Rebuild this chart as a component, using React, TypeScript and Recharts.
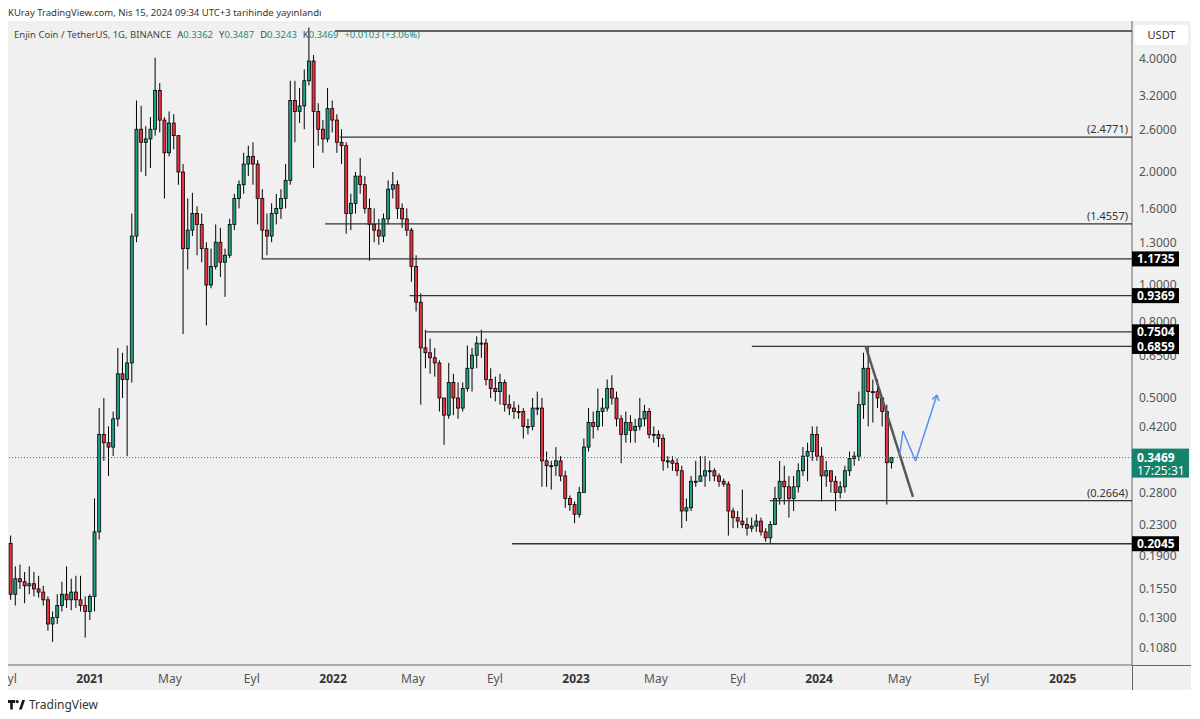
import React from "react";
import { ComposedChart, Bar, XAxis, YAxis, ReferenceLine } from "recharts";

const FONT = '"Noto Sans", "DejaVu Sans", sans-serif';
const UP = "#1f9e86";
const DOWN = "#e8343f";

// ENJ/USDT weekly candles, weeks start on Monday
const firstWeek = "2020-08-31";
const firstOpen = 0.205;
const highs = [
  0.215, 0.178, 0.18, 0.172, 0.178, 0.172, 0.168, 0.158, 0.148, 0.135,
  0.15, 0.162, 0.178, 0.165, 0.168, 0.168, 0.148, 0.15, 0.27, 0.47,
  0.5, 0.42, 0.46, 0.68, 0.66, 0.69, 1.55, 3.1, 3.0, 2.65,
  2.8, 4.03, 3.45, 2.8, 2.9, 2.85, 2.5, 2.1, 1.7, 1.76,
  1.62, 1.55, 1.3, 1.25, 1.45, 1.42, 1.25, 1.5, 1.75, 1.9,
  2.25, 2.35, 2.4, 2.15, 1.8, 1.55, 1.65, 1.75, 1.8, 2.1,
  3.5, 3.5, 3.35, 3.75, 4.85, 4.1, 3.05, 2.75, 3.35, 3.1,
  2.85, 2.6, 2.4, 1.75, 2.0, 2.18, 1.95, 1.7, 1.6, 1.5,
  1.55, 1.9, 2.0, 1.9, 1.65, 1.6, 1.42, 1.2, 0.95, 0.76,
  0.72, 0.68, 0.63, 0.5, 0.62, 0.58, 0.55, 0.55, 0.69, 0.68,
  0.73, 0.76, 0.72, 0.6, 0.57, 0.58, 0.56, 0.51, 0.49, 0.48,
  0.47, 0.44, 0.5, 0.52, 0.5, 0.36, 0.34, 0.37, 0.35, 0.32,
  0.275, 0.265, 0.29, 0.39, 0.47, 0.46, 0.53, 0.5, 0.56, 0.575,
  0.52, 0.45, 0.46, 0.45, 0.44, 0.5, 0.48, 0.47, 0.42, 0.41,
  0.4, 0.35, 0.35, 0.345, 0.33, 0.27, 0.31, 0.34, 0.35, 0.35,
  0.34, 0.325, 0.315, 0.305, 0.3, 0.255, 0.25, 0.285, 0.24, 0.24,
  0.245, 0.24, 0.225, 0.235, 0.29, 0.34, 0.33, 0.31, 0.31, 0.335,
  0.37, 0.38, 0.42, 0.42, 0.37, 0.34, 0.32, 0.31, 0.3, 0.33,
  0.36, 0.36, 0.52, 0.66, 0.686, 0.56, 0.56, 0.5, 0.48, 0.3487,
];
const lows = [
  0.145, 0.14, 0.155, 0.142, 0.15, 0.148, 0.147, 0.14, 0.12, 0.112,
  0.125, 0.135, 0.138, 0.136, 0.138, 0.135, 0.115, 0.128, 0.135, 0.21,
  0.34, 0.31, 0.35, 0.42, 0.5, 0.35, 0.55, 1.3, 2.0, 1.95,
  2.05, 2.5, 2.55, 1.7, 2.2, 2.3, 1.85, 0.74, 1.1, 1.35,
  1.2, 1.15, 0.78, 0.98, 1.1, 1.05, 0.93, 1.18, 1.4, 1.6,
  1.75, 1.95, 1.85, 1.45, 1.17, 1.2, 1.3, 1.45, 1.5, 1.6,
  1.85, 2.4, 2.7, 2.6, 3.4, 2.05, 2.35, 2.25, 2.4, 2.55,
  2.25, 2.1, 1.37, 1.4, 1.55, 1.75, 1.55, 1.16, 1.3, 1.28,
  1.3, 1.45, 1.7, 1.5, 1.42, 1.35, 1.02, 0.85, 0.48, 0.6,
  0.58, 0.57, 0.46, 0.375, 0.44, 0.45, 0.44, 0.46, 0.52, 0.52,
  0.6, 0.64, 0.54, 0.5, 0.49, 0.48, 0.46, 0.45, 0.44, 0.44,
  0.39, 0.4, 0.41, 0.45, 0.29, 0.29, 0.285, 0.31, 0.3, 0.255,
  0.25, 0.232, 0.24, 0.28, 0.36, 0.39, 0.41, 0.42, 0.46, 0.48,
  0.42, 0.335, 0.38, 0.38, 0.38, 0.41, 0.42, 0.39, 0.38, 0.37,
  0.32, 0.325, 0.32, 0.31, 0.225, 0.235, 0.25, 0.29, 0.3, 0.29,
  0.3, 0.3, 0.29, 0.29, 0.215, 0.225, 0.225, 0.225, 0.215, 0.22,
  0.22, 0.215, 0.207, 0.2045, 0.23, 0.26, 0.26, 0.24, 0.25, 0.28,
  0.31, 0.3, 0.34, 0.34, 0.265, 0.29, 0.28, 0.25, 0.27, 0.28,
  0.31, 0.33, 0.34, 0.44, 0.42, 0.43, 0.47, 0.42, 0.26, 0.3243,
];
const closes = [
  0.15, 0.165, 0.162, 0.158, 0.16, 0.155, 0.152, 0.145, 0.125, 0.13,
  0.14, 0.15, 0.145, 0.152, 0.145, 0.14, 0.135, 0.148, 0.22, 0.4,
  0.38, 0.37, 0.44, 0.58, 0.56, 0.62, 1.35, 2.6, 2.4, 2.45,
  2.6, 3.3, 2.75, 2.25, 2.7, 2.5, 2.0, 1.25, 1.4, 1.55,
  1.45, 1.25, 1.0, 1.12, 1.3, 1.15, 1.2, 1.45, 1.7, 1.85,
  2.1, 2.2, 2.1, 1.7, 1.4, 1.35, 1.55, 1.6, 1.7, 1.9,
  3.1, 2.9, 3.0, 3.5, 3.95, 2.9, 2.6, 2.45, 2.95, 2.75,
  2.4, 2.35, 1.55, 1.65, 1.95, 1.85, 1.6, 1.45, 1.4, 1.35,
  1.5, 1.8, 1.85, 1.6, 1.5, 1.4, 1.12, 0.9, 0.68, 0.66,
  0.64, 0.62, 0.5, 0.45, 0.55, 0.5, 0.47, 0.53, 0.6, 0.65,
  0.7, 0.7, 0.56, 0.53, 0.52, 0.55, 0.48, 0.47, 0.46, 0.46,
  0.42, 0.42, 0.47, 0.47, 0.34, 0.33, 0.33, 0.34, 0.31, 0.27,
  0.26, 0.245, 0.28, 0.37, 0.43, 0.42, 0.46, 0.47, 0.53, 0.5,
  0.44, 0.4, 0.43, 0.41, 0.42, 0.44, 0.46, 0.4, 0.4, 0.39,
  0.34, 0.34, 0.335, 0.32, 0.25, 0.255, 0.3, 0.3, 0.31, 0.32,
  0.32, 0.31, 0.3, 0.295, 0.25, 0.24, 0.235, 0.23, 0.225, 0.228,
  0.235, 0.22, 0.212, 0.23, 0.27, 0.3, 0.29, 0.27, 0.29, 0.32,
  0.35, 0.36, 0.4, 0.35, 0.31, 0.32, 0.3, 0.28, 0.29, 0.32,
  0.345, 0.35, 0.48, 0.6, 0.52, 0.52, 0.5, 0.46, 0.3362, 0.3469,
];

const monthTicks = [
  "2020-09-01", "2021-01-01", "2021-05-01", "2021-09-01", "2022-01-01", "2022-05-01", "2022-09-01",
  "2023-01-01", "2023-05-01", "2023-09-01", "2024-01-01", "2024-05-01", "2024-09-01", "2025-01-01",
];
const monthLabels = ["Eyl", "2021", "May", "Eyl", "2022", "May", "Eyl", "2023", "May", "Eyl", "2024", "May", "Eyl", "2025"];

const priceTicks = [0.108, 0.13, 0.155, 0.19, 0.23, 0.28, 0.42, 0.5, 0.65, 0.8, 1.0, 1.3, 1.6, 2.0, 2.6, 3.2, 4.0];

// horizontal levels drawn on the chart
const levelPrices = [4.75, 2.4771, 1.4557, 1.1735, 0.9369, 0.7504, 0.6859, 0.2664, 0.2045];
const levelStarts = ["2022-01-04", "2022-01-11", "2021-12-20", "2021-09-16", "2022-04-26", "2022-05-19", "2023-09-22", "2023-10-19", "2022-09-27"];
const levelTags = ["none", "text", "text", "box", "box", "box", "box", "text", "box"];

const lastPrice = 0.3469;
const countdown = "17:25:31";

const trendDates = ["2024-03-11", "2024-05-21"];
const trendPrices = [0.686, 0.2725];
const pathDates = ["2024-05-01", "2024-05-06", "2024-05-25", "2024-06-26"];
const pathPrices = [0.3525, 0.4085, 0.3397, 0.5095];
const arrowDates = ["2024-06-19", "2024-06-29"];
const arrowPrices = [0.4956, 0.4908];

const dayNum = (s: string) => (Date.parse(s + "T00:00:00Z") - Date.parse("2021-01-01T00:00:00Z")) / 86400000;

const X_MIN = -123.2;
const X_MAX = 1565;
const Y_MIN = 0.0972;
const Y_MAX = 5.05;
const PLOT_W = 1124;
const PLOT_H = 644;
const CHART_W = 1183;
const CHART_H = 669;

const start = dayNum(firstWeek);
const candles = closes.map((c, i) => ({
  t: start + 7 * i + 3.5,
  open: i === 0 ? firstOpen : closes[i - 1],
  high: highs[i],
  low: lows[i],
  close: c,
  range: [lows[i], highs[i]],
}));
const tickTs = monthTicks.map(dayNum);

const Candle = (props: any) => {
  const { x, y, width, height, payload } = props;
  if (!payload || !isFinite(y) || !isFinite(height)) return null;
  const yHi = Math.min(y, y + height);
  const h = Math.abs(height);
  const lh = Math.log(payload.high);
  const ll = Math.log(payload.low);
  const py = (v: number) => (lh === ll ? yHi : yHi + ((lh - Math.log(v)) / (lh - ll)) * h);
  const up = payload.close >= payload.open;
  const top = py(Math.max(payload.open, payload.close));
  const bot = py(Math.min(payload.open, payload.close));
  const cx = x + width / 2;
  return (
    <g>
      <line x1={cx} x2={cx} y1={yHi} y2={yHi + h} stroke="#000" strokeWidth={1} />
      <rect x={x} y={top} width={width} height={Math.max(1, bot - top)} fill={up ? UP : DOWN} stroke="#000" strokeWidth={0.8} />
    </g>
  );
};

const TimeTick = (props: any) => {
  const { x, payload } = props;
  const idx = tickTs.findIndex((v) => Math.abs(v - payload.value) < 0.01);
  const label = monthLabels[idx] ?? "";
  const isYear = /^\d{4}$/.test(label);
  return (
    <text x={x} y={PLOT_H + 13} textAnchor="middle" dominantBaseline="central" fontSize={12} fontFamily={FONT}
      fontWeight={isYear ? 700 : 400} fill={isYear ? "#333" : "#555"}>
      {label}
    </text>
  );
};

const PriceTick = (props: any) => {
  const { y, payload } = props;
  return (
    <text x={PLOT_W + 7} y={y} dominantBaseline="central" fontSize={12} fontFamily={FONT} fill="#555">
      {Number(payload.value).toFixed(4)}
    </text>
  );
};

const LevelTag = (props: any) => {
  const { viewBox, price, kind } = props;
  if (!viewBox) return null;
  const vy = viewBox.y;
  if (kind === "text") {
    return (
      <text x={PLOT_W - 4} y={vy - 4} textAnchor="end" fontSize={11} fontFamily={FONT} fill="#333">
        ({price.toFixed(4)})
      </text>
    );
  }
  if (kind === "box") {
    return (
      <g>
        <rect x={PLOT_W} y={vy - 7.5} width={47} height={15} fill="#000" />
        <text x={PLOT_W + 5} y={vy} dominantBaseline="central" fontSize={12} fontWeight={700} fontFamily={FONT} fill="#fff">
          {price.toFixed(4)}
        </text>
      </g>
    );
  }
  return null;
};

const LastTag = (props: any) => {
  const { viewBox } = props;
  if (!viewBox) return null;
  const vy = viewBox.y;
  return (
    <g>
      <rect x={PLOT_W} y={vy - 9} width={57} height={29} fill="#16826c" />
      <text x={PLOT_W + 5} y={vy} dominantBaseline="central" fontSize={12} fontWeight={700} fontFamily={FONT} fill="#fff">
        {lastPrice.toFixed(4)}
      </text>
      <text x={PLOT_W + 5} y={vy + 12.5} dominantBaseline="central" fontSize={12} fontFamily={FONT} fill="#fff">
        {countdown}
      </text>
    </g>
  );
};

const seg = (d1: string, p1: number, d2: string, p2: number) => [
  { x: dayNum(d1), y: p1 },
  { x: dayNum(d2), y: p2 },
];

const chartBox: React.CSSProperties = { position: "absolute", left: 8, top: 21, width: CHART_W, height: CHART_H, overflow: "hidden" };

export default function App() {
  const pathSegs = pathDates.slice(1).map((d, i) => seg(pathDates[i], pathPrices[i], d, pathPrices[i + 1]));
  const tip = pathDates.length - 1;
  const arrowSegs = arrowDates.map((d, i) => seg(d, arrowPrices[i], pathDates[tip], pathPrices[tip]));

  return (
    <div style={{ position: "relative", width: 1200, height: 719, background: "#fff", fontFamily: FONT, overflow: "hidden" }}>
      <style>{`body{margin:0}`}</style>
      <div style={{ position: "absolute", left: 8, top: 6, fontSize: 9.5, color: "#333", whiteSpace: "nowrap" }}>
        KUray TradingView.com, Nis 15, 2024 09:34 UTC+3 tarihinde yayınlandı
      </div>

      <div style={{ position: "absolute", left: 8, top: 21, width: CHART_W, height: CHART_H, background: "#f0f0f0" }} />

      {/* candles and axes */}
      <div style={chartBox}>
        <ComposedChart width={CHART_W} height={CHART_H} data={candles} margin={{ top: 0, right: 0, bottom: 0, left: 0 }}>
          <XAxis type="number" dataKey="t" domain={[X_MIN, X_MAX]} ticks={tickTs} interval={0} height={25}
            tickLine={false} axisLine={{ stroke: "#666" }} tick={<TimeTick />} allowDataOverflow />
          <YAxis orientation="right" scale="log" domain={[Y_MIN, Y_MAX]} ticks={priceTicks} interval={0} width={59}
            tickLine={false} axisLine={{ stroke: "#666" }} tick={<PriceTick />} allowDataOverflow />
          <Bar dataKey="range" barSize={3} shape={<Candle />} isAnimationActive={false} />
        </ComposedChart>
      </div>

      {/* drawings and price tags, on top of the axis labels */}
      <div style={chartBox}>
        <ComposedChart width={CHART_W} height={CHART_H} data={candles} margin={{ top: 0, right: 0, bottom: 0, left: 0 }}>
          <XAxis type="number" dataKey="t" domain={[X_MIN, X_MAX]} height={25} tick={false} tickLine={false} axisLine={false} allowDataOverflow />
          <YAxis orientation="right" scale="log" domain={[Y_MIN, Y_MAX]} width={59} tick={false} tickLine={false} axisLine={false} allowDataOverflow />
          <ReferenceLine y={lastPrice} stroke="#16826c" strokeDasharray="1 2" strokeWidth={1} label={<LastTag />} />
          {levelPrices.map((p, i) => (
            <ReferenceLine key={"lv" + i} ifOverflow="visible"
              segment={[{ x: dayNum(levelStarts[i]), y: p }, { x: X_MAX, y: p }]}
              stroke="#333" strokeWidth={1.3}
              label={<LevelTag price={p} kind={levelTags[i]} />} />
          ))}
          <ReferenceLine ifOverflow="visible" segment={seg(trendDates[0], trendPrices[0], trendDates[1], trendPrices[1])}
            stroke="#55595e" strokeWidth={2.5} />
          {pathSegs.concat(arrowSegs).map((s, i) => (
            <ReferenceLine key={"bp" + i} ifOverflow="visible" segment={s} stroke="#5b8def" strokeWidth={1.5} />
          ))}
        </ComposedChart>
      </div>

      {/* legend */}
      <div style={{ position: "absolute", left: 14, top: 28, fontSize: 9.5, color: "#444", whiteSpace: "nowrap" }}>
        Enjin Coin / TetherUS, 1G, BINANCE
        <span style={{ marginLeft: 6 }}>A</span><span style={{ color: "#1f8a72" }}>0.3362</span>
        <span style={{ marginLeft: 6 }}>Y</span><span style={{ color: "#1f8a72" }}>0.3487</span>
        <span style={{ marginLeft: 6 }}>D</span><span style={{ color: "#1f8a72" }}>0.3243</span>
        <span style={{ marginLeft: 6 }}>K</span><span style={{ color: "#1f8a72" }}>0.3469</span>
        <span style={{ marginLeft: 6, color: "#1f8a72" }}>+0.0103 (+3.06%)</span>
      </div>

      {/* USDT currency badge */}
      <div style={{ position: "absolute", left: 1135, top: 25, width: 53, height: 20, background: "#fff", borderRadius: 3,
        fontSize: 11, color: "#333", lineHeight: "20px", textAlign: "center" }}>
        USDT
      </div>

      {/* frame extensions into the axis corner */}
      <div style={{ position: "absolute", left: 1132, top: 665, width: 1, height: 25, background: "#666" }} />
      <div style={{ position: "absolute", left: 1132, top: 665, width: 59, height: 1, background: "#666" }} />

      {/* footer */}
      <div style={{ position: "absolute", left: 8, top: 696, display: "flex", alignItems: "center", gap: 4 }}>
        <svg width={17} height={10} viewBox="0 0 17 10">
          <path d="M0 0 H7 V3 H4.8 V9.5 H2.2 V3 H0 Z" fill="#131722" />
          <circle cx={9.2} cy={1.6} r={1.6} fill="#131722" />
          <path d="M11 9.5 L14.2 0 H17 L13.8 9.5 Z" fill="#131722" />
        </svg>
        <span style={{ fontSize: 12, color: "#333" }}>TradingView</span>
      </div>
    </div>
  );
}
